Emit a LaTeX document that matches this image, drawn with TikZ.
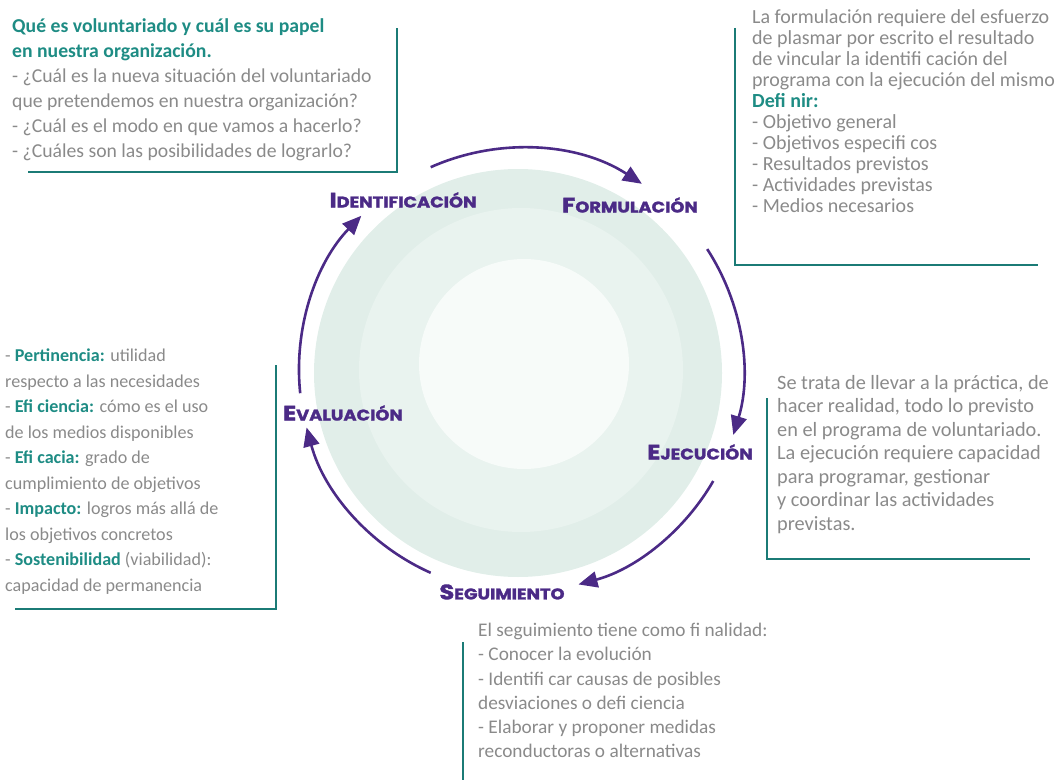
\documentclass[tikz,border=0pt]{standalone}
\usepackage{fontspec}
\setmainfont{Carlito}
\newfontfamily\stagefont{Poppins}[BoldFeatures={FakeBold=1.6}]
\usetikzlibrary{arrows.meta}
\definecolor{purp}{HTML}{4B2A86}
\definecolor{tealline}{HTML}{1B7B76}
\definecolor{tealtext}{HTML}{1E8C84}
\definecolor{greytext}{HTML}{8A8A8A}
\definecolor{ringa}{HTML}{E1EEE9}
\definecolor{ringb}{HTML}{E9F3EF}
\definecolor{ringc}{HTML}{F7FBF9}
\newcommand{\stagename}[2]{{\fontsize{21}{21}\selectfont #1}{\fontsize{15.5}{15.5}\selectfont #2}}
\newcommand{\kw}[1]{{\bfseries\color{tealtext}#1}}
\begin{document}
\begin{tikzpicture}[x=1pt,y=1pt,
  stage/.style={text=purp,font=\stagefont\bfseries,inner sep=0pt,xscale=1.15,transform shape},
  infotext/.style={anchor=north west,align=left,inner sep=0pt,text=greytext},
  frame/.style={draw=tealline,line width=2.6pt},
  cyclearrow/.style={draw=purp,line width=2.6pt,-{Triangle[length=19pt,width=16pt]}}]
\useasboundingbox (0,0) rectangle (1056,780);
% circle background
\fill[ringa] (518,407) circle (204);
\fill[ringb] (521,410) circle (162);
\fill[ringc] (524,416) circle (105);
\coordinate (c) at (521,410);
% stage labels
\node[stage] (ident) at (403,580) {\stagename{I}{DENTIFICACIÓN}};
\node[stage] (formul) at (630,575) {\stagename{F}{ORMULACIÓN}};
\node[stage] (ejec) at (700,328) {\stagename{E}{JECUCIÓN}};
\node[stage] (segui) at (502,188) {\stagename{S}{EGUIMIENTO}};
\node[stage] (evalu) at (343,367) {\stagename{E}{VALUACIÓN}};
% cycle arrows
\draw[cyclearrow] ([shift={(114:222)}]c) arc[start angle=114,end angle=57,radius=222];
\draw[cyclearrow] ([shift={(33:222)}]c) arc[start angle=33,end angle=-17,radius=222];
\draw[cyclearrow] ([shift={(-30:222)}]c) arc[start angle=-30,end angle=-75,radius=222];
\draw[cyclearrow] ([shift={(246:222)}]c) arc[start angle=246,end angle=195,radius=222];
\draw[cyclearrow] ([shift={(186:222)}]c) arc[start angle=186,end angle=136,radius=222];
% text boxes
\node[infotext,font=\fontsize{19.7}{25}\selectfont] (boxident) at (12,762)
  {\kw{Qué es voluntariado y cuál es su papel}\\
   \kw{en nuestra organización.}\\
   - ¿Cuál es la nueva situación del voluntariado\\
   que pretendemos en nuestra organización?\\
   - ¿Cuál es el modo en que vamos a hacerlo?\\
   - ¿Cuáles son las posibilidades de lograrlo?};
\draw[frame] (28,608) -- (397,608) -- (397,752);
\node[infotext,font=\fontsize{20}{21}\selectfont] (boxformul) at (752,771)
  {La formulación requiere del esfuerzo\\
   de plasmar por escrito el resultado\\
   de vincular la identifi cación del\\
   programa con la ejecución del mismo\\
   \kw{Defi nir:}\\
   - Objetivo general\\
   - Objetivos especifi cos\\
   - Resultados previstos\\
   - Actividades previstas\\
   - Medios necesarios};
\draw[frame] (735,752) -- (735,515) -- (1038,515);
\node[infotext,font=\fontsize{18.1}{25.5}\selectfont] (boxevalu) at (5,431)
  {- \kw{Pertinencia:} utilidad\\
   respecto a las necesidades\\
   - \kw{Efi ciencia:} cómo es el uso\\
   de los medios disponibles\\
   - \kw{Efi cacia:} grado de\\
   cumplimiento de objetivos\\
   - \kw{Impacto:} logros más allá de\\
   los objetivos concretos\\
   - \kw{Sostenibilidad} (viabilidad):\\
   capacidad de permanencia};
\draw[frame] (15,171) -- (276,171) -- (276,415);
\node[infotext,font=\fontsize{20.3}{23.5}\selectfont] (boxejec) at (777,405)
  {Se trata de llevar a la práctica, de\\
   hacer realidad, todo lo previsto\\
   en el programa de voluntariado.\\
   La ejecución requiere capacidad\\
   para programar, gestionar\\
   y coordinar las actividades\\
   previstas.};
\draw[frame] (767,382) -- (767,221) -- (1030,221);
\node[infotext,font=\fontsize{19.3}{24.2}\selectfont] (boxsegui) at (478,157)
  {El seguimiento tiene como fi nalidad:\\
   - Conocer la evolución\\
   - Identifi car causas de posibles\\
   desviaciones o defi ciencia\\
   - Elaborar y proponer medidas\\
   reconductoras o alternativas};
\draw[frame] (463,138) -- (463,0);
\end{tikzpicture}
\end{document}
